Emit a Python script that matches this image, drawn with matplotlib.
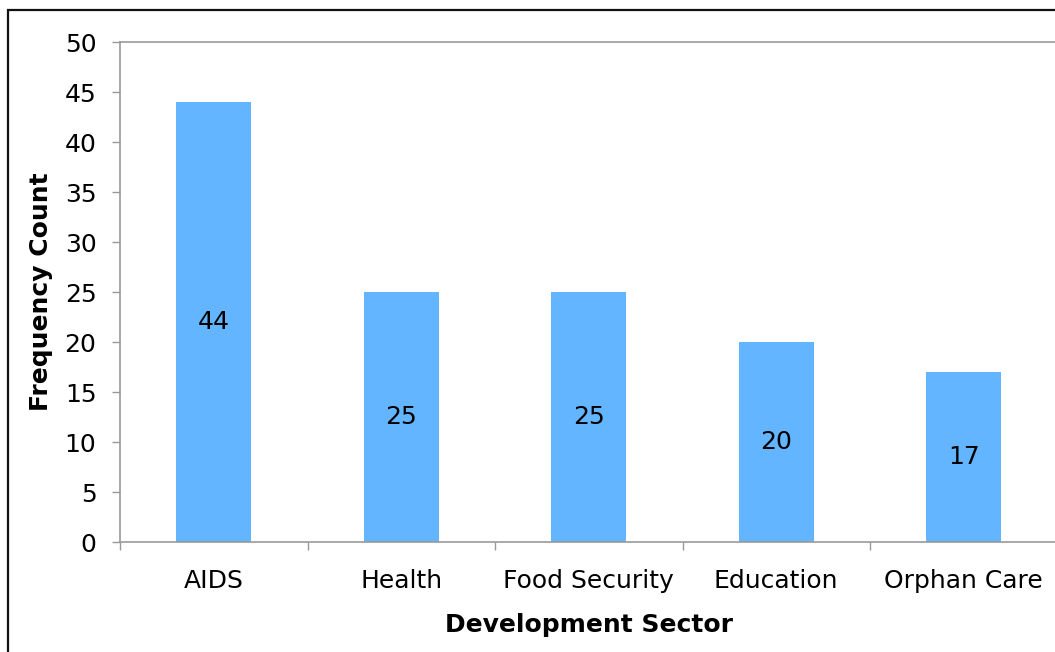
import matplotlib
matplotlib.use("Agg")
import matplotlib.pyplot as plt
from matplotlib.patches import Rectangle
import numpy as np

categories = ["AIDS", "Health", "Food Security", "Education", "Orphan Care"]
values = [44, 25, 25, 20, 17]
yticks = [0, 5, 10, 15, 20, 25, 30, 35, 40, 45, 50]

W, H = 1055, 652
fig = plt.figure(figsize=(W / 100, H / 100), dpi=100)
fig.patch.set_facecolor("white")

# figure frame
fig.add_artist(Rectangle((7.5 / W, -0.1), 1.2, (H - 9.5) / H + 0.1,
                         transform=fig.transFigure, fill=False,
                         edgecolor="#111111", linewidth=1.6))

left, right, bottom, top = 120 / W, 1057.5 / W, (H - 542) / H, (H - 42) / H
ax = fig.add_axes([left, bottom, right - left, top - bottom])

x = np.arange(len(categories))
bars = ax.bar(x, values, width=0.4, color="#63B5FF", zorder=2)
for xi, v in zip(x, values):
    ax.text(xi, v / 2, str(v), ha="center", va="center", fontsize=18, color="black")

ax.set_xlim(-0.5, len(categories) - 0.5)
ax.set_ylim(0, 50)
ax.set_yticks(yticks)
ax.set_yticklabels([str(t) for t in yticks], fontsize=18)

ax.set_xticks(np.arange(len(categories) + 1) - 0.5)
ax.set_xticklabels([""] * (len(categories) + 1))
ax.set_xticks(x, minor=True)
ax.set_xticklabels(categories, minor=True, fontsize=18)
ax.tick_params(axis="x", which="major", length=6, color="#999999", width=1)
ax.tick_params(axis="x", which="minor", length=0, pad=19.5)
ax.tick_params(axis="y", length=6, color="#999999", width=1, pad=11)

for s in ax.spines.values():
    s.set_color("#999999")
    s.set_linewidth(1.2)

ax.set_ylabel("Frequency Count", fontsize=18, fontweight="bold", labelpad=8)
ax.set_xlabel("Development Sector", fontsize=18, fontweight="bold", labelpad=14)

fig.savefig("out.png", dpi=100)
